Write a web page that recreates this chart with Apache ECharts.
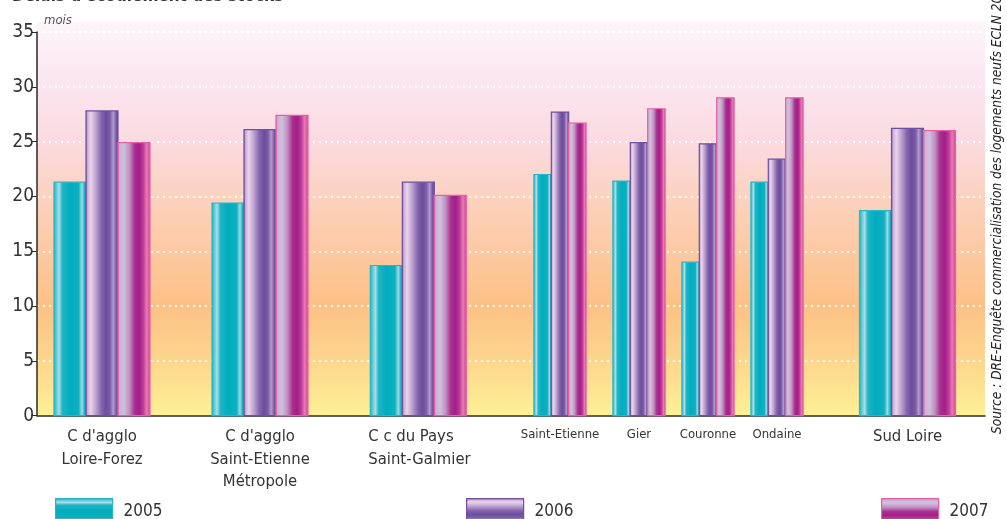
<!DOCTYPE html>
<html>
<head>
<meta charset="utf-8">
<style>
  html, body { margin: 0; padding: 0; background: #ffffff; }
  #chart { width: 1007px; height: 519px; }
</style>
<script src="https://cdn.jsdelivr.net/npm/echarts@6/dist/echarts.min.js"></script>
</head>
<body>
<div id="chart"></div>
<script>
// Délais d'écoulement des stocks, en mois
const categories = [
  "C d'agglo\nLoire-Forez",
  "C d'agglo\nSaint-Etienne\nMétropole",
  "C c du Pays\nSaint-Galmier",
  "Saint-Etienne",
  "Gier",
  "Couronne",
  "Ondaine",
  "Sud Loire"
];
const years = ["2005", "2006", "2007"];
const values2005 = [21.3, 19.4, 13.7, 22.0, 21.4, 14.0, 21.3, 18.7];
const values2006 = [27.8, 26.1, 21.3, 27.7, 24.9, 24.8, 23.4, 26.2];
const values2007 = [24.9, 27.4, 20.1, 26.7, 28.0, 29.0, 29.0, 26.0];
const yTicks = [0, 5, 10, 15, 20, 25, 30, 35];

// Layout along the horizontal axis (axis units = pixels of plot width)
const groupCenters = [65, 223, 381.3, 523, 602, 671, 740, 870.5];
const groupBarWidths = [32, 32, 32, 17.4, 17.4, 17.4, 17.4, 32];
const smallLabel = [false, false, false, true, true, true, true, false];

const FONT = "'Liberation Sans Narrow', 'DejaVu Sans Condensed', 'Liberation Sans', sans-serif";

function lg(stops, vertical) {
  return new echarts.graphic.LinearGradient(0, 0, vertical ? 0 : 1, vertical ? 1 : 0,
    stops.map(function (s) { return { offset: s[0], color: s[1] }; }));
}

const stopsTeal = [
  [0, '#14aebf'], [0.08, '#5cc6d2'], [0.17, '#a8dfe6'], [0.27, '#22b4c4'],
  [0.5, '#00adbf'], [0.76, '#0eb0c1'], [0.86, '#9edbe3'], [0.94, '#16b1c2'], [1, '#05a8ba']
];
const stopsPurple = [
  [0, '#7a5aa6'], [0.07, '#cdb0d8'], [0.16, '#ead4ea'], [0.3, '#c2a6d2'],
  [0.48, '#8466ae'], [0.62, '#6c4c9c'], [0.74, '#7a5ca8'], [0.84, '#b49cce'],
  [0.93, '#7858a6'], [1, '#6a4a9a']
];
const stopsPink = [
  [0, '#e25a9e'], [0.07, '#ccb2d6'], [0.2, '#cfc0de'], [0.36, '#c090c0'],
  [0.52, '#a8308e'], [0.66, '#a11f8a'], [0.78, '#c03a98'], [0.88, '#e67ab6'],
  [0.95, '#e0559e'], [1, '#e24c96']
];
const barFills = [lg(stopsTeal, false), lg(stopsPurple, false), lg(stopsPink, false)];
const swatchFills = [lg(stopsTeal, true), lg(stopsPurple, true), lg(stopsPink, true)];
const barBorders = ['#28b6c6', '#6d50a0', '#ea5ea2'];

function barRenderer(yearIdx) {
  return function (params, api) {
    const cat = api.value(0);
    const w = groupBarWidths[cat];
    const cx = groupCenters[cat] + (yearIdx - 1) * w;
    const topLeft = api.coord([cx - w / 2, api.value(1)]);
    const bottomRight = api.coord([cx + w / 2, 0]);
    return {
      type: 'rect',
      shape: {
        x: topLeft[0], y: topLeft[1],
        width: bottomRight[0] - topLeft[0],
        height: bottomRight[1] - topLeft[1]
      },
      style: { fill: barFills[yearIdx], stroke: barBorders[yearIdx], lineWidth: 1.2 }
    };
  };
}

const seriesValues = [values2005, values2006, values2007];

const chart = echarts.init(document.getElementById('chart'), null, { renderer: 'canvas' });

const option = {
  animation: false,
  backgroundColor: '#ffffff',
  grid: { left: 37, right: 22, top: 32, bottom: 103.3, containLabel: false },
  graphic: [
    {
      type: 'rect', z: -10, silent: true,
      shape: { x: 37, y: 22, width: 948, height: 393.7 },
      style: {
        fill: lg([
          [0, '#fdf5f9'], [0.165, '#fbe5ef'], [0.3, '#fbdbe1'], [0.44, '#fcd3c1'],
          [0.58, '#fcc9a3'], [0.72, '#fcc186'], [0.86, '#fdd68d'], [1, '#fdf196']
        ], true)
      }
    },
    {
      type: 'text', left: 12, top: -12, silent: true,
      style: { text: "Délais d'écoulement des stocks", font: 'bold 17px ' + FONT, fill: '#333333' }
    },
    {
      type: 'text', x: 44, y: 21, silent: true,
      style: { text: 'mois', font: 'italic 13px ' + FONT, fill: '#555555', verticalAlign: 'middle' }
    },
    {
      type: 'text', x: 997, y: 434, rotation: Math.PI / 2, silent: true,
      style: {
        text: 'Source : DRE-Enquête commercialisation des logements neufs ECLN 2007',
        font: 'italic 13.6px ' + FONT, fill: '#222222', align: 'left', verticalAlign: 'middle'
      }
    }
  ],
  legend: years.map(function (y, i) {
    return {
      left: [55, 466, 881][i], top: 498, padding: 0,
      itemWidth: 57, itemHeight: 25, itemGap: 0,
      selectedMode: false,
      textStyle: { fontFamily: FONT, fontSize: 17, color: '#333', padding: [2, 0, 0, 6] },
      data: [{
        name: y, icon: 'rect',
        itemStyle: { color: swatchFills[i], borderColor: barBorders[i], borderWidth: 1.2 }
      }]
    };
  }),
  xAxis: {
    type: 'value', min: 0, max: 948,
    axisLine: { show: true, lineStyle: { color: '#2a2a2a', width: 1.5 } },
    axisTick: { show: false },
    splitLine: { show: false },
    axisLabel: {
      customValues: groupCenters,
      margin: 10,
      color: '#333',
      fontFamily: FONT,
      formatter: function (v) {
        const i = groupCenters.indexOf(v);
        if (i < 0) return '';
        const lines = categories[i].split('\n');
        if (smallLabel[i]) return '{s|' + lines.join('}\n{s|') + '}';
        if (i === 2) return '{l|' + lines.join('}\n{l|') + '}';
        return '{b|' + lines.join('}\n{b|') + '}';
      },
      rich: {
        b: { fontFamily: FONT, fontSize: 16.5, lineHeight: 22.5, color: '#333' },
        l: { fontFamily: FONT, fontSize: 16.5, lineHeight: 22.5, color: '#333', width: 100, align: 'left' },
        s: { fontFamily: FONT, fontSize: 13, lineHeight: 18, color: '#333' }
      }
    }
  },
  yAxis: {
    type: 'value', min: 0, max: 35, interval: 5,
    axisLine: { show: true, lineStyle: { color: '#2a2a2a', width: 1.5 } },
    axisTick: { show: true, length: 6, lineStyle: { color: '#2a2a2a' } },
    axisLabel: {
      margin: 3, color: '#333', fontFamily: FONT, fontSize: 19,
      formatter: function (v) { return yTicks.indexOf(v) >= 0 ? String(v) : ''; }
    },
    splitLine: { show: true, lineStyle: { color: '#ffffff', width: 2, type: [2, 4], opacity: 0.95 } }
  },
  series: years.map(function (y, i) {
    return {
      name: y,
      type: 'custom',
      renderItem: barRenderer(i),
      itemStyle: { color: swatchFills[i] },
      encode: { x: 0, y: 1 },
      data: seriesValues[i].map(function (v, c) { return [c, v]; })
    };
  })
};

chart.setOption(option);
</script>
</body>
</html>
